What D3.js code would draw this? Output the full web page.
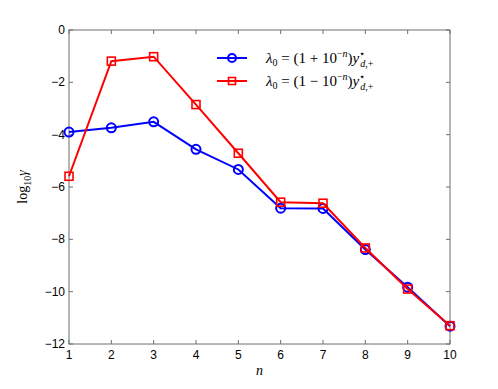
<!DOCTYPE html>
<html>
<head>
<meta charset="utf-8">
<script src="https://cdn.jsdelivr.net/npm/d3@7"></script>
<style>
  body { margin: 0; background: #fff; }
  svg { display: block; }
</style>
</head>
<body>
<div id="chart"></div>
<script>
// values
const nValues = [1, 2, 3, 4, 5, 6, 7, 8, 9, 10];
const plusSeries = [-3.90, -3.74, -3.51, -4.56, -5.33, -6.81, -6.82, -8.39, -9.83, -11.32];
const minusSeries = [-5.59, -1.19, -1.02, -2.85, -4.71, -6.58, -6.62, -8.33, -9.90, -11.30];
const yTicks = [0, -2, -4, -6, -8, -10, -12];

const width = 498, height = 389;
const margin = { left: 69, right: 48, top: 30, bottom: 45 };

const svg = d3.select('#chart').append('svg')
    .attr('width', width)
    .attr('height', height);

const x = d3.scaleLinear()
    .domain([1, 10])
    .range([margin.left, width - margin.right]);

const y = d3.scaleLinear()
    .domain([-12, 0])
    .range([height - margin.bottom, margin.top]);

const axisColor = '#6e6e6e';
const tickFont = '"Liberation Sans", Arial, sans-serif';

// box
svg.append('rect')
    .attr('x', x(1)).attr('y', y(0))
    .attr('width', x(10) - x(1)).attr('height', y(-12) - y(0))
    .attr('fill', 'none').attr('stroke', axisColor).attr('stroke-width', 1);

// ticks inward, both sides
const tl = 4;
svg.append('g').selectAll('line.xb')
    .data(nValues).join('line')
    .attr('x1', d => x(d)).attr('x2', d => x(d))
    .attr('y1', y(-12)).attr('y2', y(-12) - tl)
    .attr('stroke', axisColor);
svg.append('g').selectAll('line.xt')
    .data(nValues).join('line')
    .attr('x1', d => x(d)).attr('x2', d => x(d))
    .attr('y1', y(0)).attr('y2', y(0) + tl)
    .attr('stroke', axisColor);
svg.append('g').selectAll('line.yl')
    .data(yTicks).join('line')
    .attr('x1', x(1)).attr('x2', x(1) + tl)
    .attr('y1', d => y(d)).attr('y2', d => y(d))
    .attr('stroke', axisColor);
svg.append('g').selectAll('line.yr')
    .data(yTicks).join('line')
    .attr('x1', x(10)).attr('x2', x(10) - tl)
    .attr('y1', d => y(d)).attr('y2', d => y(d))
    .attr('stroke', axisColor);

// tick labels
svg.append('g').selectAll('text')
    .data(nValues).join('text')
    .attr('x', d => x(d)).attr('y', y(-12) + 15)
    .attr('text-anchor', 'middle')
    .attr('font-family', tickFont).attr('font-size', 12)
    .text(d => d);
svg.append('g').selectAll('text')
    .data(yTicks).join('text')
    .attr('x', x(1) - 4).attr('y', d => y(d) + 4)
    .attr('text-anchor', 'end')
    .attr('font-family', tickFont).attr('font-size', 12)
    .text(d => d < 0 ? '\u2212' + Math.abs(d) : d);

// axis titles
svg.append('text')
    .attr('x', (x(1) + x(10)) / 2).attr('y', height - 14)
    .attr('text-anchor', 'middle')
    .attr('font-family', '"Liberation Serif", serif').attr('font-style', 'italic')
    .attr('font-size', 14)
    .text('n');

const ylab = svg.append('text')
    .attr('transform', `translate(27,${(y(0) + y(-12)) / 2}) rotate(-90)`)
    .attr('text-anchor', 'middle')
    .attr('font-family', '"Liberation Serif", serif')
    .attr('font-size', 14);
ylab.append('tspan').text('log');
ylab.append('tspan').attr('font-size', 10).attr('dy', 4).text('10');
ylab.append('tspan').attr('font-style', 'italic').attr('dy', -4).text('\u03b3');

// series
const line = d3.line()
    .x((d, i) => x(nValues[i]))
    .y(d => y(d));

svg.append('path')
    .datum(plusSeries)
    .attr('d', line)
    .attr('fill', 'none').attr('stroke', '#0000ff').attr('stroke-width', 2);
svg.append('g').selectAll('circle')
    .data(plusSeries).join('circle')
    .attr('cx', (d, i) => x(nValues[i])).attr('cy', d => y(d))
    .attr('r', 4.5)
    .attr('fill', 'none').attr('stroke', '#0000ff').attr('stroke-width', 2);

svg.append('path')
    .datum(minusSeries)
    .attr('d', line)
    .attr('fill', 'none').attr('stroke', '#ff0000').attr('stroke-width', 2);
svg.append('g').selectAll('rect')
    .data(minusSeries).join('rect')
    .attr('x', (d, i) => x(nValues[i]) - 4).attr('y', d => y(d) - 4)
    .attr('width', 8).attr('height', 8)
    .attr('fill', 'none').attr('stroke', '#ff0000').attr('stroke-width', 1.6);

// legend
const legend = [
  { color: '#0000ff', marker: 'circle', sign: '+' },
  { color: '#ff0000', marker: 'square', sign: '\u2212' }
];
const lg = svg.append('g');
legend.forEach((d, i) => {
  const ly = 58 + i * 23;
  lg.append('line')
    .attr('x1', 217).attr('x2', 247).attr('y1', ly).attr('y2', ly)
    .attr('stroke', d.color).attr('stroke-width', 2);
  if (d.marker === 'circle') {
    lg.append('circle').attr('cx', 232).attr('cy', ly).attr('r', 4)
      .attr('fill', 'none').attr('stroke', d.color).attr('stroke-width', 2);
  } else {
    lg.append('rect').attr('x', 228.5).attr('y', ly - 3.5).attr('width', 7).attr('height', 7)
      .attr('fill', 'none').attr('stroke', d.color).attr('stroke-width', 1.6);
  }
  const t = lg.append('text')
    .attr('x', 266).attr('y', ly + 5)
    .attr('font-family', '"Liberation Serif", serif')
    .attr('font-size', 15);
  t.append('tspan').attr('font-style', 'italic').text('\u03bb');
  t.append('tspan').attr('font-size', 10).attr('dy', 3).text('0');
  t.append('tspan').attr('dy', -3).text(' = (1 ' + d.sign + ' 10');
  t.append('tspan').attr('font-size', 10).attr('dy', -6).text('\u2212');
  t.append('tspan').attr('font-size', 10).attr('font-style', 'italic').text('n');
  t.append('tspan').attr('dy', 6).text(')');
  t.append('tspan').attr('font-style', 'italic').text('y');
  t.append('tspan').attr('font-size', 10).attr('dy', -6).text('\u22c6');
  t.append('tspan').attr('font-size', 10).attr('font-style', 'italic').attr('dy', 10).attr('dx', -5).text('d');
  t.append('tspan').attr('font-size', 10).text(',+');
});
</script>
</body>
</html>
